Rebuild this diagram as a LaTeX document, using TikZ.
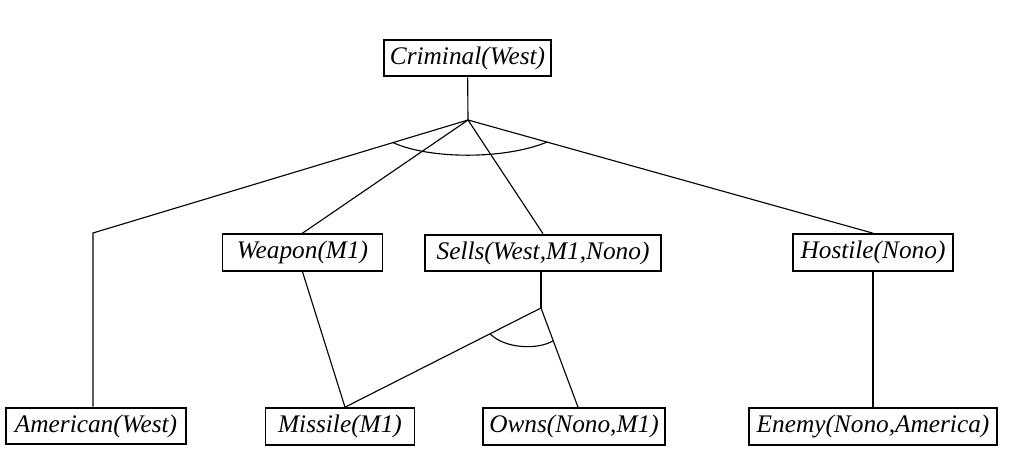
\documentclass[tikz,border=0pt]{standalone}
\usepackage{fontspec}
\setmainfont{Liberation Serif}
\usetikzlibrary{calc}
\tikzstyle{fact} = [draw, rectangle, line width=1.3pt, minimum height=0.92cm, inner xsep=0.15cm, font=\fontsize{18}{21}\selectfont\itshape]
\tikzstyle{support} = [coordinate]
\tikzstyle{link} = [line width=0.8pt]

\begin{document}
\begin{tikzpicture}[x=0.025cm,y=-0.025cm]
\useasboundingbox (0,0) rectangle (1020,457);
\node [fact, minimum width=4.175cm] (crim) at (467.5,58) {Criminal(West)};
\node [fact, minimum width=4cm] (weap) at (302.5,252.5) {Weapon(M1)};
\node [fact, minimum width=5.9cm] (sells) at (543,253) {Sells(West,M1,Nono)};
\node [fact, minimum width=4cm] (host) at (873,252.5) {Hostile(Nono)};
\node [fact, minimum width=4.5cm] (amer) at (96,426) {American(West)};
\node [fact, minimum width=3.725cm] (miss) at (340,426.5) {Missile(M1)};
\node [fact, minimum width=4.55cm] (owns) at (574,426.5) {Owns(Nono,M1)};
\node [fact, minimum width=6.2cm] (enemy) at (873,426.5) {Enemy(Nono,America)};
\node [support] (top) at (468,120) {};
\node [support] (amtop) at (93,233) {};
\node [support] (sj) at (541,308) {};

% and-link for Criminal(West)
\draw [link] (crim) -- (top);
\draw [link] (top) -- (amtop) -- (amtop |- amer.north);
\draw [link] (top) -- (weap.north);
\draw [link] (top) -- (sells.north);
\draw [link] (top) -- (host.north);
\draw [link] ($(top)!0.2!(amtop)$) .. controls (430,159.5) and (505,159.5) .. ($(top)!0.195!(host.north)$);

% and-link for Sells(West,M1,Nono)
\draw [link] (sj |- sells.south) -- (sj);
\draw [link] (sj) -- ([xshift=0.125cm]miss.north);
\draw [link] (sj) -- ([xshift=0.1cm]owns.north);
\draw [link] ($(sj)!0.26!([xshift=0.125cm]miss.north)$) .. controls (505,349) and (538,350) .. ($(sj)!0.33!([xshift=0.1cm]owns.north)$);

\draw [link] (weap.south) -- ([xshift=0.125cm]miss.north);
\draw [link] (host) -- (enemy);
\end{tikzpicture}
\end{document}
